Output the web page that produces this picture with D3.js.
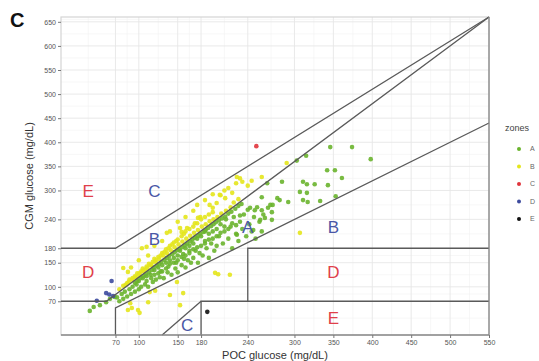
<!DOCTYPE html>
<html><head><meta charset="utf-8">
<script src="https://cdn.jsdelivr.net/npm/d3@7"></script>
<style>body{margin:0;background:#fff}svg{display:block;font-family:"Liberation Sans",Arial,sans-serif}</style>
</head><body><svg id="c" width="539" height="361"></svg>
<script>
const xTicks=[70,100,150,180,240,300,350,400,450,500,550];
const yTicks=[70,100,150,180,240,300,350,400,450,500,550,600,650];
const zoneNames=["A","B","C","D","E"];
const zoneColors=["#6ab42d","#e4e61c","#e0343c","#3d4b9e","#111111"];
// points per zone [POC, CGM]
const ptsA=[[37,50],[42,58],[50,62],[58,68],[63,75],[69,79],[72,78],[75,70],[78,85],[80,75],[82,90],[85,80],[88,95],[90,85],[92,100],[95,90],[97,105],[100,95],[100,112],[103,100],
[105,118],[108,105],[110,122],[112,100],[115,125],[118,110],[120,135],[122,115],[125,140],[127,120],[130,145],[132,118],[135,150],[137,130],[140,155],[142,125],[145,160],[147,138],[150,165],[150,130],[138,142],[128,132],[116,118],[148,150],
[153,175],[155,145],[157,168],[160,180],[160,140],[163,155],[165,185],[167,150],[170,190],[170,160],[173,175],[175,200],[176,150],[178,170],[180,205],[182,165],[185,195],[187,180],[190,210],[190,160],[193,190],[195,215],[197,175],[200,220],[200,185],[185,215],[165,170],[158,158],
[203,205],[205,230],[208,190],[210,215],[212,240],[215,200],[218,225],[220,180],[222,245],[225,210],[228,195],[230,235],[233,220],[235,250],[238,205],[240,260],[242,230],[245,215],[248,245],[250,200],[252,265],[255,235],[258,215],[260,250],
[265,315],[278,284],[284,318],[292,276],[303,362],[311,318],[316,313],[326,313],[307,297],[316,295],[311,280],[317,276],[333,278],[353,288],[342,342],[352,342],[361,326],[343,311],[346,390],[374,390],[398,365],[315,372],[269,270],[258,259],[271,255],[262,243],[247,218],[226,208],[272,270],[258,286],[266,264],[281,280],[271,239],[256,239],[249,259],[243,264],
[95,108],[98,112],[102,118],[106,122],[109,126],[113,130],[117,135],[119,140],[123,144],[126,148],[129,152],[133,156],[136,160],[139,164],[143,168],[146,172],[149,176],[152,178],[156,182],[159,186],[162,190],[166,194],[169,198],[172,202],[176,206],[179,210],[183,214],[186,218],[189,222],[193,226],[196,230],[199,234],[203,238],[207,242],[211,246],[215,252],[219,256],[224,262],[228,268],[232,272],
[110,112],[120,125],[130,132],[140,148],[150,155],[160,165],[170,178],[180,185],[190,198],[200,205],[210,225],[220,232],[230,248],[125,128],[135,138],[145,150],[155,162],[165,175],[175,182],[185,190],[195,200],[205,212],[215,220],[225,228]];
const ptsB=[[86,131],[80,139],[104,180],[110,183],[136,212],[153,222],[176,243],[191,270],[200,274],
[75,95],[80,102],[85,108],[88,115],[92,118],[95,122],[98,128],[100,125],[103,132],[105,138],[108,136],[110,142],[113,148],[115,145],[118,152],[120,158],[122,155],[125,162],[128,165],[130,170],[133,172],[135,178],[138,180],[140,185],[143,188],[145,192],[148,195],[150,198],[155,205],[158,210],[160,215],[165,220],[170,225],[175,232],[180,240],[185,245],[190,250],[195,255],
[90,140],[100,155],[112,165],[120,185],[130,195],[140,215],[150,235],[160,245],[170,258],[175,270],[185,280],[195,292],[205,290],[210,300],[215,305],[220,295],[225,315],[230,325],[240,310],[245,320],[226,328],[233,318],[258,328],[290,357],[204,291],[211,284],[195,264],[179,245],[172,232],[162,222],[155,214],
[83,104],[87,110],[91,115],[96,120],[101,128],[106,133],[111,139],[116,146],[121,152],[126,158],[131,165],[136,170],[141,176],[146,182],[151,188],[156,194],[161,200],[166,206],[171,212],[176,218],[181,225],[186,230],[191,236],[196,240],[201,245],[206,252],[212,258],[218,265],[222,275],[228,282],
[114,89],[121,92],[89,66],[86,52],[99,52],[112,68],[157,87],[149,110],[198,129],[202,126],[217,125],[91,56],[101,46],[140,83],[153,62],[307,212]];
const ptsC=[[251,392]];
const ptsD=[[65,112],[58,87],[67,81],[62,84],[46,71]];
const ptsE=[[188,48]];
const zoneLines=[[[0,180],[70,180],[550,660]],[[0,70],[58.33,70],[550,660]],[[70,0],[70,56],[550,440]],[[130,0],[180,70]],[[180,0],[180,70],[550,70]],[[240,70],[240,180],[550,180]]];
const zoneLabels=[["E",35,300,"#e0404a"],["C",120,300,"#4a57a6"],["B",120,200,"#4a57a6"],["A",240,225,"#4a57a6"],["B",350,225,"#4a57a6"],["D",35,130,"#e0404a"],["D",350,130,"#e0404a"],["E",350,35,"#e0404a"],["C",162,20,"#4a57a6"]];

const svg=d3.select("#c");
const x=d3.scaleLinear().domain([0,550]).range([61,489]);
const y=d3.scaleLinear().domain([0,660]).range([335,17]);
const mid=a=>{const m=[a[0]/2];for(let i=1;i<a.length;i++)m.push((a[i-1]+a[i])/2);return m;};
const g=svg.append("g");
g.selectAll(".mx").data(mid(xTicks)).join("line").attr("x1",d=>x(d)).attr("x2",d=>x(d)).attr("y1",y(0)).attr("y2",y(660)).attr("stroke","#f2f2f2").attr("stroke-width",0.6);
g.selectAll(".my").data(mid(yTicks).concat([655])).join("line").attr("y1",d=>y(d)).attr("y2",d=>y(d)).attr("x1",x(0)).attr("x2",x(550)).attr("stroke","#f2f2f2").attr("stroke-width",0.6);
g.selectAll(".gx").data(xTicks).join("line").attr("x1",d=>x(d)).attr("x2",d=>x(d)).attr("y1",y(0)).attr("y2",y(660)).attr("stroke","#e6e6e6").attr("stroke-width",0.9);
g.selectAll(".gy").data(yTicks).join("line").attr("y1",d=>y(d)).attr("y2",d=>y(d)).attr("x1",x(0)).attr("x2",x(550)).attr("stroke","#e6e6e6").attr("stroke-width",0.9);
svg.append("rect").attr("x",x(0)).attr("y",y(660)).attr("width",x(550)-x(0)).attr("height",y(0)-y(660)).attr("fill","none").attr("stroke","#d4d4d4").attr("stroke-width",1.2);
const all=[ptsA,ptsB,ptsC,ptsD,ptsE];
all.forEach((pts,i)=>{
 svg.append("g").selectAll("circle").data(pts).join("circle").attr("cx",d=>x(d[0])).attr("cy",d=>y(d[1])).attr("r",2.3).attr("fill",zoneColors[i]).attr("fill-opacity",0.9);
});
const line=d3.line().x(d=>x(d[0])).y(d=>y(d[1]));
svg.append("g").selectAll("path").data(zoneLines).join("path").attr("d",line).attr("fill","none").attr("stroke","#5a5a5a").attr("stroke-width",1.3);
svg.append("line").attr("x1",x(550)).attr("x2",x(550)).attr("y1",y(0)).attr("y2",y(660)).attr("stroke","#8a8a8a").attr("stroke-width",1.3);
svg.append("line").attr("x1",x(0)).attr("x2",x(550)).attr("y1",y(0)).attr("y2",y(0)).attr("stroke","#8a8a8a").attr("stroke-width",1.3);
svg.append("g").selectAll("text").data(zoneLabels).join("text").attr("x",d=>x(d[1])).attr("y",d=>y(d[2])).attr("dy","0.36em").attr("text-anchor","middle").attr("font-size",17).attr("fill",d=>d[3]).text(d=>d[0]);
const ax=d3.axisBottom(x).tickValues(xTicks).tickSize(3).tickPadding(2);
const ay=d3.axisLeft(y).tickValues(yTicks).tickSize(3).tickPadding(2);
const gx=svg.append("g").attr("transform",`translate(0,${y(0)})`).call(ax);
const gy=svg.append("g").attr("transform",`translate(${x(0)},0)`).call(ay);
[gx,gy].forEach(a=>{a.select(".domain").remove();a.selectAll("line").attr("stroke","#777");a.selectAll("text").attr("fill","#555").attr("font-size",7).attr("font-family","Liberation Sans, Arial, sans-serif");});
svg.append("text").attr("x",275).attr("y",359).attr("text-anchor","middle").attr("font-size",11).attr("fill","#333").text("POC glucose (mg/dL)");
svg.append("text").attr("transform","translate(33,176) rotate(-90)").attr("text-anchor","middle").attr("font-size",11).attr("fill","#333").text("CGM glucose (mg/dL)");
svg.append("text").attr("x",10).attr("y",27).attr("font-size",20).attr("font-weight","bold").attr("fill","#111").text("C");
const lg=svg.append("g");
lg.append("text").attr("x",505).attr("y",131).attr("font-size",9).attr("fill","#444").text("zones");
lg.selectAll("circle").data(zoneNames).join("circle").attr("cx",519).attr("cy",(d,i)=>149+i*17.5).attr("r",2).attr("fill",(d,i)=>zoneColors[i]);
lg.selectAll(".lt").data(zoneNames).join("text").attr("x",530).attr("y",(d,i)=>149+i*17.5).attr("dy","0.35em").attr("font-size",7).attr("fill","#666").text(d=>d);
</script></body></html>
